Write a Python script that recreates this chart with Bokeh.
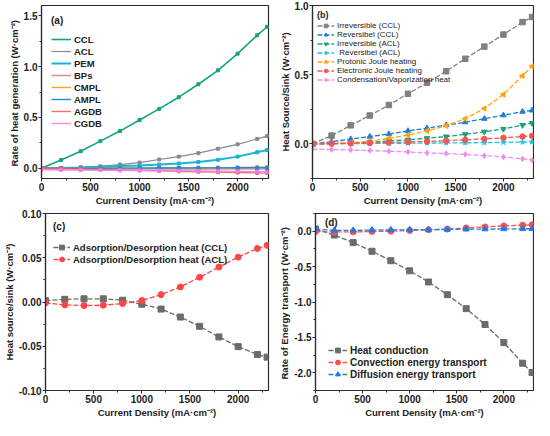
import math
from bokeh.plotting import figure
from bokeh.layouts import row, column
from bokeh.models import Range1d, SingleIntervalTicker, NumeralTickFormatter, Label
from bokeh.embed import file_html
from bokeh.resources import INLINE

# ---------------- data ----------------
current_density = [0, 200, 400, 600, 800, 1000, 1200, 1400, 1600, 1800, 2000, 2200, 2300]

# (a) rate of heat generation (W cm-2)
a_ccl = [0, 0.081, 0.168, 0.267, 0.366, 0.475, 0.584, 0.699, 0.826, 0.963, 1.127, 1.307, 1.391]
a_acl = [0, 0.003, 0.009, 0.019, 0.037, 0.056, 0.087, 0.115, 0.149, 0.193, 0.236, 0.289, 0.317]
a_pem = [0, 0.004, 0.009, 0.016, 0.022, 0.028, 0.037, 0.047, 0.062, 0.084, 0.115, 0.158, 0.180]
a_bps = [0, -0.002, -0.003, -0.003, -0.004, -0.004, -0.005, -0.005, -0.005, -0.005, -0.005, -0.006, -0.006]
a_cmpl = [0, 0.001, 0.001, 0.002, 0.003, 0.003, 0.004, 0.005, 0.006, 0.007, 0.008, 0.010, 0.011]
a_ampl = [0, 0.000, 0.001, 0.001, 0.002, 0.002, 0.003, 0.003, 0.004, 0.004, 0.005, 0.006, 0.006]
a_agdb = [0, -0.004, -0.008, -0.012, -0.016, -0.020, -0.025, -0.029, -0.033, -0.037, -0.041, -0.045, -0.047]
a_cgdb = [-0.012, -0.016, -0.018, -0.019, -0.020, -0.021, -0.022, -0.024, -0.026, -0.028, -0.030, -0.033, -0.035]

# (b) heat source / sink (W cm-2)
b_irr_ccl = [0, 0.060, 0.134, 0.205, 0.281, 0.362, 0.442, 0.525, 0.615, 0.703, 0.790, 0.880, 0.917]
b_rev_ccl = [0, 0.016, 0.035, 0.053, 0.071, 0.094, 0.113, 0.136, 0.157, 0.182, 0.207, 0.233, 0.242]
b_irr_acl = [0, 0.002, 0.005, 0.012, 0.021, 0.030, 0.041, 0.053, 0.069, 0.088, 0.108, 0.136, 0.150]
b_rev_acl = [0, 0.001, 0.002, 0.003, 0.004, 0.005, 0.006, 0.007, 0.008, 0.009, 0.011, 0.013, 0.014]
b_protonic = [0, 0.002, 0.008, 0.020, 0.039, 0.064, 0.094, 0.131, 0.182, 0.256, 0.357, 0.493, 0.560]
b_electronic = [0, 0.002, 0.004, 0.007, 0.010, 0.014, 0.018, 0.023, 0.029, 0.036, 0.044, 0.053, 0.058]
b_condensation = [-0.039, -0.041, -0.044, -0.048, -0.053, -0.058, -0.065, -0.070, -0.076, -0.085, -0.094, -0.108, -0.117]

# (c) adsorption / desorption heat (W cm-2)
c_ads_ccl = [0.0015, 0.003, 0.0036, 0.0036, 0.002, -0.0025, -0.008, -0.017, -0.0275, -0.0395, -0.0504, -0.0594, -0.0623]
c_ads_acl = [-0.001, -0.0033, -0.004, -0.0036, -0.0018, 0.0018, 0.0083, 0.017, 0.028, 0.0395, 0.0507, 0.0605, 0.064]

# (d) rate of energy transport (W cm-2)
d_conduction = [0.03, -0.054, -0.161, -0.283, -0.417, -0.560, -0.717, -0.897, -1.094, -1.318, -1.574, -1.865, -1.996]
d_convection = [-0.005, -0.010, -0.010, -0.005, 0.000, 0.010, 0.020, 0.030, 0.045, 0.060, 0.075, 0.085, 0.090]
d_diffusion = [0.030, 0.010, 0.012, 0.015, 0.018, 0.020, 0.022, 0.025, 0.028, 0.030, 0.032, 0.034, 0.035]

X_LABEL = "Current Density (mA\u00b7cm\u207b\u00b2)"
FONT = "Liberation Sans"
AXC = "#2b2b2b"


def make_fig(width, height, yr, ylabel, yint, yfmt, bl, br, bt, bb):
    p = figure(width=width, height=height, x_range=Range1d(0, 2315), y_range=Range1d(*yr),
               output_backend="svg", toolbar_location=None,
               min_border_left=bl, min_border_right=br, min_border_top=bt, min_border_bottom=bb)
    p.xgrid.visible = False
    p.ygrid.visible = False
    p.background_fill_color = "white"
    p.border_fill_color = "white"
    p.outline_line_color = AXC
    p.outline_line_width = 1.2
    p.outline_line_alpha = 1.0
    p.xaxis.ticker = SingleIntervalTicker(interval=500, num_minor_ticks=2)
    p.yaxis.ticker = SingleIntervalTicker(interval=yint, num_minor_ticks=2)
    p.yaxis.formatter = NumeralTickFormatter(format=yfmt)
    p.xaxis.axis_label = X_LABEL
    p.yaxis.axis_label = ylabel
    for ax in (p.xaxis[0], p.yaxis[0]):
        ax.axis_line_color = AXC
        ax.axis_line_width = 1.2
        ax.major_tick_out = 3
        ax.major_tick_in = 0
        ax.minor_tick_out = 2
        ax.minor_tick_in = 0
        ax.major_tick_line_color = AXC
        ax.minor_tick_line_color = AXC
        ax.major_label_text_font = FONT
        ax.major_label_text_font_style = "bold"
        ax.major_label_text_font_size = "10px"
        ax.major_label_text_color = "#222222"
        ax.axis_label_text_font = FONT
        ax.axis_label_text_font_style = "bold"
        ax.axis_label_text_font_size = "9.5px"
        ax.axis_label_text_color = "#222222"
        ax.major_label_standoff = 1
        ax.axis_label_standoff = 1
    return p


def style_legend(p, title, font_size, font_style, glyph_w, item_h, margin, padding, standoff, title_size):
    lg = p.legend[0]
    lg.location = "top_left"
    if title:
        lg.title = title
        lg.title_text_font = FONT
        lg.title_text_font_style = "bold"
        lg.title_text_font_size = title_size
        lg.title_text_color = "#222222"
        lg.title_standoff = standoff
    lg.label_text_font = FONT
    lg.label_text_font_style = font_style
    lg.label_text_font_size = font_size
    lg.label_text_color = "#222222"
    lg.glyph_width = glyph_w
    lg.glyph_height = item_h
    lg.label_height = item_h
    lg.label_standoff = 3
    lg.spacing = 0
    lg.margin = margin
    lg.padding = padding
    lg.border_line_alpha = 0
    lg.background_fill_alpha = 0
    return lg


# ---------------- (a) ----------------
pa = make_fig(276, 208, (-0.1, 1.6), "Rate of heat generation  (W\u00b7cm\u207b\u00b2)", 0.5, "0.0",
              41, 8, 5, 28)
series_a = [
    (a_ccl, "CCL", "#17a37e", 1.6, 1.0),
    (a_acl, "ACL", "#8a8a8a", 1.2, 1.0),
    (a_pem, "PEM", "#1cb3d9", 2.0, 1.0),
    (a_bps, "BPs", "#c0504d", 1.6, 0.6),
    (a_cmpl, "CMPL", "#ffa31a", 1.4, 1.0),
    (a_ampl, "AMPL", "#1f8ae0", 1.4, 1.0),
    (a_agdb, "AGDB", "#f5605a", 1.4, 0.9),
    (a_cgdb, "CGDB", "#f07ce6", 1.4, 0.9),
]
for ys, name, col, lw, al in series_a:
    pa.line(current_density, ys, line_color=col, line_width=lw, line_alpha=al, legend_label=name)
    pa.scatter(current_density, ys, marker="square", size=3, fill_color=col, line_color=col, alpha=al)
style_legend(pa, "(a)", "9.5px", "bold", 20, 12, 5, 5, 7, "10px")

# ---------------- (b) ----------------
pb = make_fig(258, 208, (-0.25, 1.0), "Heat Source/Sink (W\u00b7cm\u207b\u00b2)", 0.5, "0.0",
              35, 1, 5, 28)
series_b = [
    (b_irr_ccl, "Irreversible (CCL)", "#808080", "square", 0),
    (b_rev_ccl, "Reversibel (CCL)", "#1f7de0", "triangle", 0),
    (b_irr_acl, "Irreversible (ACL)", "#17a373", "inverted_triangle", 0),
    (b_rev_acl, " Reversibel (ACL)", "#1ec8e8", "star", 0),
    (b_protonic, "Protonic Joule heating", "#ffa512", "triangle", math.pi / 2),
    (b_electronic, "Electronic Joule heating", "#f55555", "circle", 0),
    (b_condensation, "Condensation/Vaporization heat", "#f08cf0", "diamond", 0),
]
for ys, name, col, mk, ang in series_b:
    pb.line(current_density, ys, line_color=col, line_width=1.3, line_dash="5 2", legend_label=name)
    pb.scatter(current_density, ys, marker=mk, size=5.5, angle=ang, fill_color=col, line_color=col,
               legend_label=name)
style_legend(pb, "(b)", "8px", "normal", 17, 9, 2, 3, 1, "9px")

# ---------------- (c) ----------------
pc = make_fig(276, 212, (-0.1, 0.1), "Heat source/sink (W\u00b7cm\u207b\u00b2)", 0.05, "0.00",
              41, 8, 5, 28)
series_c = [
    (c_ads_ccl, "Adsorption/Desorption heat (CCL)", "#6b6b6b", "square"),
    (c_ads_acl, "Adsorption/Desorption heat (ACL)", "#ff4545", "circle"),
]
for ys, name, col, mk in series_c:
    pc.line(current_density, ys, line_color=col, line_width=1.3, line_dash="5 2", legend_label=name)
    pc.scatter(current_density, ys, marker=mk, size=6, fill_color=col, line_color=col, legend_label=name)
style_legend(pc, "(c)", "9.5px", "bold", 17, 12, 3, 5, 9, "10px")

# ---------------- (d) ----------------
pd_ = make_fig(258, 212, (-2.25, 0.25), "Rate of Energy transport  (W\u00b7cm\u207b\u00b2)", 0.5, "0.0",
               35, 1, 5, 28)
series_d = [
    (d_conduction, "Heat conduction", "#6b6b6b", "square"),
    (d_convection, "Convection energy transport", "#ff5050", "circle"),
    (d_diffusion, "Diffusion energy transport", "#1f7de0", "triangle"),
]
for ys, name, col, mk in series_d:
    pd_.line(current_density, ys, line_color=col, line_width=1.3, line_dash="5 2", legend_label=name)
    pd_.scatter(current_density, ys, marker=mk, size=6, fill_color=col, line_color=col, legend_label=name)
lgd = style_legend(pd_, None, "10px", "bold", 19, 12, 0, 6, 0, "10px")
lgd.location = (7, 4)
pd_.add_layout(Label(x=100, y=0.12, text="(d)", text_font=FONT, text_font_style="bold",
                     text_font_size="10px", text_color="#222222", text_baseline="middle"))

layout = column(row(pa, pb), row(pc, pd_))
open("out.html", "w").write(file_html(layout, INLINE))
